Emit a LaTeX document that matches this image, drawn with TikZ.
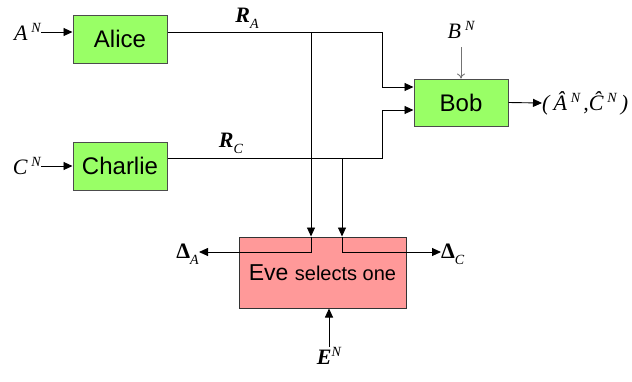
\documentclass[tikz,border=0pt]{standalone}
\usepackage{fontspec}
\setmainfont{Liberation Sans}
\newfontfamily\tnr{Liberation Serif}
\usetikzlibrary{arrows.meta,calc}
\newcommand\mysup[2]{{\tnr\itshape #1}\hspace{4pt}\raisebox{8pt}{\fontsize{14}{14}\selectfont\tnr\itshape #2}}
\newcommand\mysub[2]{#1\raisebox{-6pt}{\fontsize{14}{14}\selectfont\tnr\itshape #2}}
\definecolor{boxgreen}{HTML}{99FF66}
\definecolor{boxpink}{HTML}{FF9999}
\begin{document}
\begin{tikzpicture}[x=1pt,y=-1pt,
  arr/.style={line width=0.9pt,-{Triangle[length=9pt,width=8pt]}},
  gbox/.style={draw=black!70,line width=1pt,fill=boxgreen,minimum width=94pt,minimum height=48pt,inner sep=0pt,font=\fontsize{24}{28}\selectfont},
  pbox/.style={draw=black!80,line width=1pt,fill=boxpink,minimum width=167pt,minimum height=71pt,inner sep=0pt},
  lab/.style={inner sep=0pt,font=\fontsize{22}{26}\selectfont}]
\useasboundingbox (0,0) rectangle (632,381);
% boxes
\node[gbox] (a) at (120,39) {Alice};
\node[gbox] (c) at (120,166) {Charlie};
\node[gbox,minimum height=47pt] (b) at (461,102.5) {Bob};
\node[pbox] (e) at (322.5,272.5) {\fontsize{23}{26}\selectfont Eve \fontsize{20}{24}\selectfont selects one};
% labels
\node[lab,anchor=east] (aN) at (41,32) {\mysup{A}{N}};
\node[lab,anchor=east] (cN) at (41,166) {\mysup{C}{N}};
\node[lab] (RA) at (247,18) {\mysub{{\tnr\bfseries\itshape R}}{A}};
\node[lab] (RC) at (231,143) {\mysub{{\tnr\bfseries\itshape R}}{C}};
\node[lab] (bN) at (461,30) {\mysup{B}{N}};
\node[lab,anchor=west] (out) at (542,103) {{\tnr\itshape (}\hspace{4pt}\mysup{Â}{N}\hspace{3pt}{\tnr\itshape ,}\mysup{Ĉ}{N}\hspace{4pt}{\tnr\itshape )}};
\node[lab,anchor=east] (dA) at (199,254) {\mysub{{\tnr\bfseries Δ}}{A}};
\node[lab,anchor=west] (dC) at (441,254) {\mysub{{\tnr\bfseries Δ}}{C}};
\node[lab] (eN) at (329,356) {{\tnr\bfseries\itshape E}\raisebox{8pt}{\fontsize{14}{14}\selectfont\tnr\itshape N}};
% junction coordinates
\coordinate (ja) at (311,32);
\coordinate (jc) at (342,158);
% connectors
\draw[arr] (aN.east) -- (a.west |- aN.east);
\draw[arr] (cN.east) -- (c.west |- cN.east);
\draw[arr] (a.east |- ja) -| (382,87) -- ($(b.west)+(0,-15.5)$);
\draw[arr] (c.east |- jc) -| (382,110) -- ($(b.west)+(0,7.5)$);
\draw[arr] (ja) -- (e.north -| ja);
\draw[arr] (jc) -- (e.north -| jc);
\draw[arr] (e.north -| ja) |- (dA.east |- 0,252);
\draw[arr] (e.north -| jc) |- (dC.west |- 0,252);
\draw[line width=0.9pt,black!55,-{To[length=5pt,width=8pt]}] (461,47) -- (b.north);
\draw[arr] (b.east) -- (out.west);
\draw[arr] (eN.north) -- (e.south -| eN.north);
\end{tikzpicture}
\end{document}
